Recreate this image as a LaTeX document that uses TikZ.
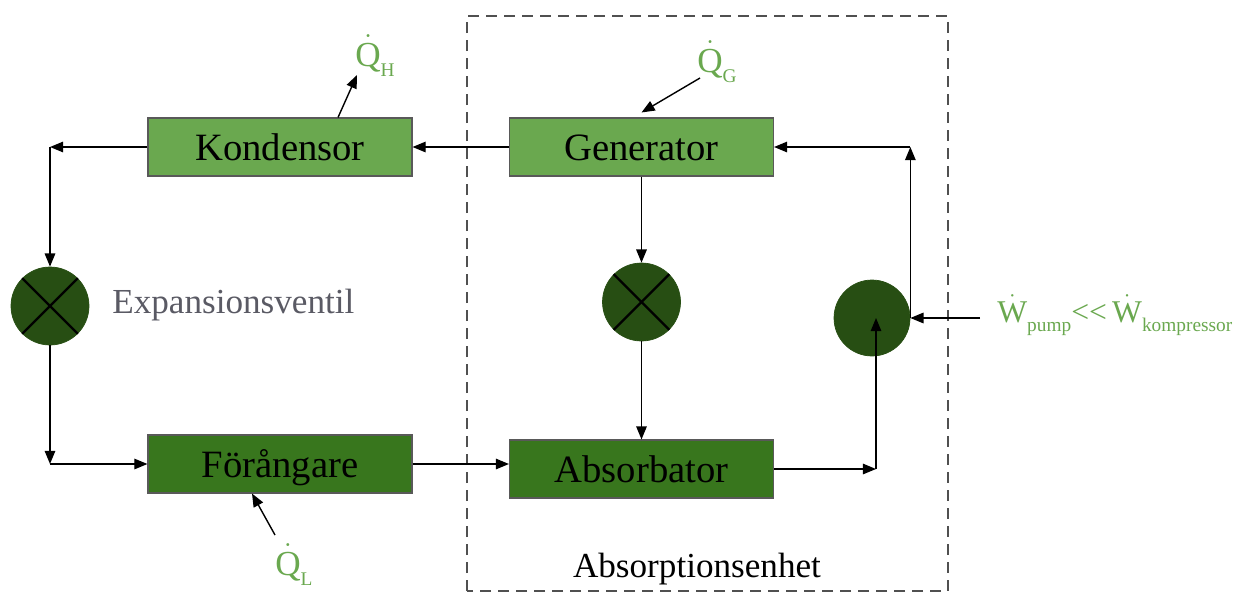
\documentclass[tikz,border=0pt]{standalone}
\usepackage{amsmath}
\usepackage{fontspec}
\setmainfont{Liberation Serif}
\usetikzlibrary{arrows.meta,positioning}
\definecolor{boxlight}{RGB}{106,168,79}
\definecolor{boxdark}{RGB}{56,118,29}
\definecolor{valvegreen}{RGB}{39,78,19}
\definecolor{heatgreen}{RGB}{106,168,79}
\definecolor{framegray}{RGB}{80,80,80}
\definecolor{textgray}{RGB}{90,90,100}
% dotted rate symbol with a lowered subscript
\newcommand{\rate}[2]{\ensuremath{\dot{\text{#1}}}\raisebox{-0.3em}{\fontsize{11}{12}\selectfont #2}}

\begin{document}
\begin{tikzpicture}[
  comp/.style={draw=gray!70!black, line width=0.6pt, inner sep=0pt,
               minimum width=5.28cm, minimum height=1.16cm,
               text height=0.52cm, text depth=0cm,
               font=\fontsize{22}{26}\selectfont},
  valve/.style={circle, fill=valvegreen, draw=valvegreen,
                minimum size=1.56cm, inner sep=0pt},
  heat/.style={text=heatgreen, font=\fontsize{20}{24}\selectfont, inner sep=0pt},
  arr/.style={-{Triangle[length=7.5pt,width=6pt]}, line width=0.8pt}]
\useasboundingbox (0,0) rectangle (25.04,11.88);
% absorption unit
\draw[framegray, line width=1.5pt, dash pattern=on 0.22cm off 0.14cm]
  (9.34,0.06) rectangle (18.96,11.56);
\node[anchor=base, inner sep=0pt, font=\fontsize{20}{24}\selectfont] (unit) at (13.94,0.34) {Absorptionsenhet};

\node[comp, fill=boxlight] (kond) at (5.6,8.94) {Kondensor};
\node[comp, fill=boxlight] (gen) at (12.83,8.94) {Generator};
\node[comp, fill=boxdark] (evap) at (5.6,2.60) {Förångare};
\node[comp, fill=boxdark] (abs) at (12.83,2.50) {Absorbator};
\node[valve] (ev1) at (1.0,5.76) {};
\node[valve] (ev2) at (12.83,5.84) {};
\node[valve, minimum size=1.52cm] (pump) at (17.44,5.52) {};
\foreach \v in {ev1,ev2}{
  \draw[line width=1.3pt] (\v.north west) -- (\v.south east);
  \draw[line width=1.3pt] (\v.north east) -- (\v.south west);
}
\node[text=textgray, font=\fontsize{20}{24}\selectfont, anchor=base west, inner sep=0pt]
  (evtext) at (2.24,5.62) {Expansionsventil};

% corners of the loops
\coordinate (c1) at (ev1 |- kond);
\coordinate (c2) at (ev1 |- evap);
\coordinate (c3) at (17.52,2.50);
\coordinate (c4) at (pump.east |- gen);

\draw[arr] (kond.west) -- (c1);
\draw[arr] (c1) -- (ev1);
\draw[arr] (ev1) -- (c2);
\draw[arr] (c2) -- (evap.west);
\draw[arr] (evap.east) -- (evap.east -| abs.west);
\draw[arr] (gen) -- (kond);
\draw[arr] (gen) -- (ev2);
\draw[arr] (ev2) -- (abs);
\draw[arr] (abs.east) -- (c3);
\draw[arr] (c3) -- (c3 |- pump);
\draw[arr] (pump.east) -- (c4);
\draw[arr] (c4) -- (gen.east);

% heat and work
\node[heat, anchor=base west] (qh) at (7.10,10.56) {\rate{Q}{H}};
\node[heat, anchor=base west] (qg) at (13.94,10.44) {\rate{Q}{G}};
\node[heat, anchor=base west] (ql) at (5.50,0.38) {\rate{Q}{L}};
\node[heat, anchor=base west, font=\fontsize{18}{22}\selectfont] (wp) at (19.94,5.44)
  {\rate{W}{pump}\textless\kern0pt\textless\,\rate{W}{kompressor}};
\coordinate (qhtip) at (7.14,10.38);
\coordinate (qgtail) at (14.0,10.32);
\coordinate (qltail) at (5.50,1.18);
\coordinate (wtail) at (19.6,5.52);
\draw[arr] ([xshift=1.16cm]kond.north) -- (qhtip);
\draw[arr] (qgtail) -- ([yshift=0.1cm]gen.north);
\draw[arr] (qltail) -- ([xshift=-0.56cm]evap.south);
\draw[arr] (wtail) -- (pump.east);
\end{tikzpicture}
\end{document}
